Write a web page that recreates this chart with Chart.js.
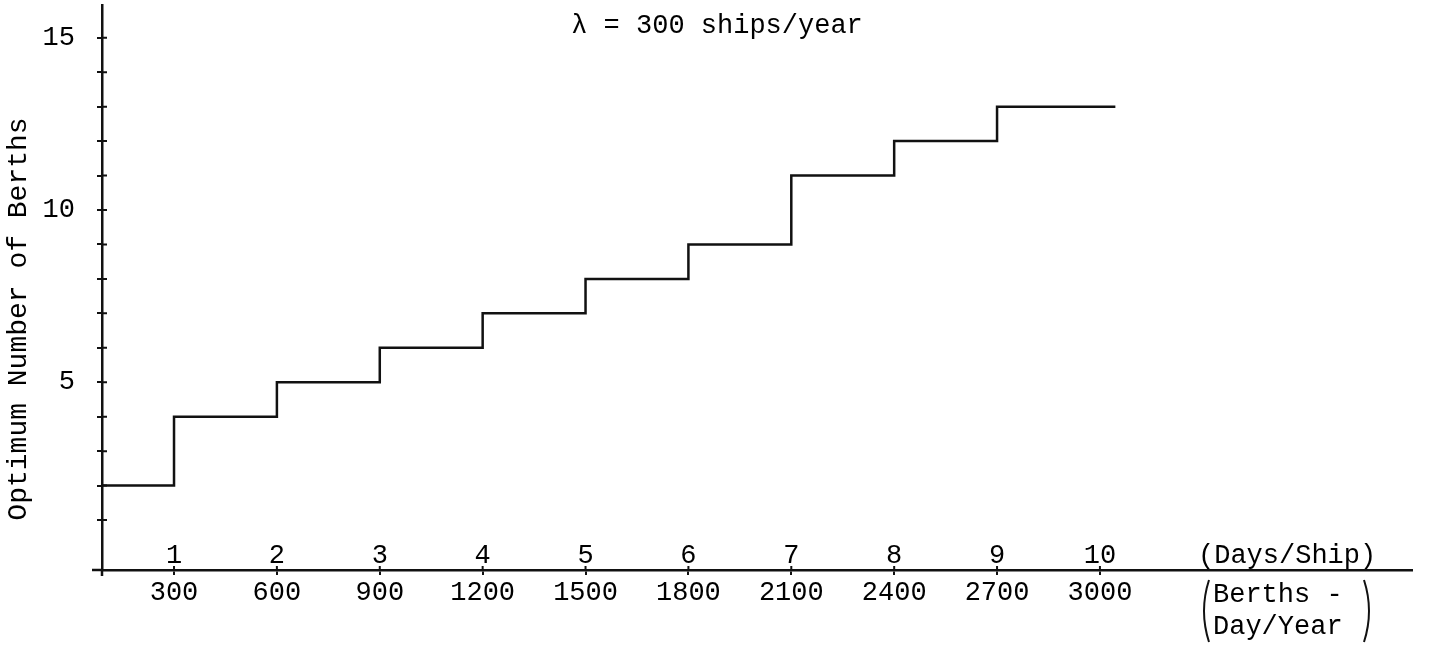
<!DOCTYPE html>
<html>
<head>
<meta charset="utf-8">
<script src="https://cdn.jsdelivr.net/npm/chart.js@4"></script>
<style>
  html, body { margin: 0; padding: 0; background: #fff; }
  #wrap { width: 1444px; height: 647px; }
</style>
</head>
<body>
<div id="wrap"><canvas id="berths" width="1444" height="647"></canvas></div>
<script>
// berth capacity (berth-days per year) and the matching service time
const berthDayTicks = [300, 600, 900, 1200, 1500, 1800, 2100, 2400, 2700, 3000];
const daysPerShip = ['1', '2', '3', '4', '5', '6', '7', '8', '9', '10'];

// optimum berths, stepping up at each capacity break
const capacity = [0, 300, 600, 900, 1200, 1500, 1800, 2100, 2400, 2700, 3045];
const optimumBerths = [2, 4, 5, 6, 7, 8, 9, 11, 12, 13, 13];

const berthTicks = [1, 2, 3, 4, 5, 6, 7, 8, 9, 10, 11, 12, 13, 14, 15];

const ink = '#111';
const FONT_FAMILY = '"Liberation Mono", "DejaVu Sans Mono", monospace';
const FONT_SIZE = 27;

// extra labels: heading, axis titles, the days/ship row above the axis
const berthLabels = {
  id: 'berthLabels',
  afterDraw(chart) {
    const { ctx, chartArea, scales: { x, y } } = chart;
    ctx.save();
    ctx.strokeStyle = ink;
    ctx.fillStyle = '#000';
    ctx.lineWidth = 2.5;

    // axis runs a bit left of the origin
    ctx.beginPath();
    ctx.moveTo(chartArea.left - 10, chartArea.bottom);
    ctx.lineTo(chartArea.left, chartArea.bottom);
    ctx.moveTo(chartArea.left, chartArea.bottom);
    ctx.lineTo(chartArea.left, chartArea.bottom + 6);
    ctx.stroke();

    // tick marks cross the axes, so add the inner halves
    ctx.lineWidth = 2;
    ctx.beginPath();
    berthTicks.forEach(v => {
      const py = y.getPixelForValue(v);
      ctx.moveTo(chartArea.left, py);
      ctx.lineTo(chartArea.left + 5, py);
    });
    berthDayTicks.forEach(v => {
      const px = x.getPixelForValue(v);
      ctx.moveTo(px, chartArea.bottom);
      ctx.lineTo(px, chartArea.bottom - 4);
    });
    ctx.stroke();

    ctx.font = FONT_SIZE + 'px ' + FONT_FAMILY;
    ctx.textAlign = 'center';
    ctx.textBaseline = 'alphabetic';
    daysPerShip.forEach((d, i) => {
      ctx.fillText(d, x.getPixelForValue(berthDayTicks[i]), chartArea.bottom - 7);
    });

    ctx.fillText('\u03bb = 300 ships/year', 717, 33);

    ctx.save();
    ctx.font = '28px ' + FONT_FAMILY;
    ctx.translate(26, 319);
    ctx.rotate(-Math.PI / 2);
    ctx.fillText('Optimum Number of Berths', 0, 0);
    ctx.restore();

    // units at the right end of the axis
    ctx.textAlign = 'left';
    ctx.fillText('(Days/Ship)', 1198, 563);
    ctx.fillText('Berths -', 1213, 602);
    ctx.fillText('Day/Year', 1213, 634);

    ctx.lineWidth = 2;
    ctx.beginPath();
    ctx.moveTo(1209, 580);
    ctx.quadraticCurveTo(1199, 611, 1209, 642);
    ctx.moveTo(1364, 580);
    ctx.quadraticCurveTo(1374, 611, 1364, 642);
    ctx.stroke();
    ctx.restore();
  }
};

new Chart(document.getElementById('berths'), {
  type: 'line',
  data: {
    datasets: [{
      data: capacity.map((c, i) => ({ x: c, y: optimumBerths[i] })),
      stepped: 'before',
      borderColor: ink,
      borderWidth: 2.5,
      pointRadius: 0,
      fill: false
    }]
  },
  options: {
    responsive: false,
    animation: false,
    layout: { padding: { top: 5, right: 32, bottom: 0, left: 0 } },
    plugins: { legend: { display: false }, tooltip: { enabled: false } },
    scales: {
      x: {
        type: 'linear',
        min: 90,
        max: 3910,
        afterFit: s => { s.height = 77; s.paddingLeft = 0; s.paddingRight = 0; },
        afterBuildTicks: s => { s.ticks = berthDayTicks.map(v => ({ value: v })); },
        border: { color: ink, width: 2.5 },
        grid: { drawOnChartArea: false, color: ink, lineWidth: 2, tickLength: 5 },
        ticks: {
          color: '#000',
          padding: 2,
          maxRotation: 0,
          autoSkip: false,
          font: { family: FONT_FAMILY, size: FONT_SIZE },
          callback: v => String(v)
        }
      },
      y: {
        min: -0.45,
        max: 15.95,
        afterFit: s => { s.width = 102; s.paddingTop = 0; s.paddingBottom = 0; },
        afterBuildTicks: s => { s.ticks = berthTicks.map(v => ({ value: v })); },
        border: { color: ink, width: 2.5 },
        grid: { drawOnChartArea: false, color: ink, lineWidth: 2, tickLength: 5 },
        ticks: {
          color: '#000',
          padding: 22,
          autoSkip: false,
          font: { family: FONT_FAMILY, size: FONT_SIZE },
          callback: v => (v % 5 === 0 ? String(v) : '')
        }
      }
    }
  },
  plugins: [berthLabels]
});
</script>
</body>
</html>
